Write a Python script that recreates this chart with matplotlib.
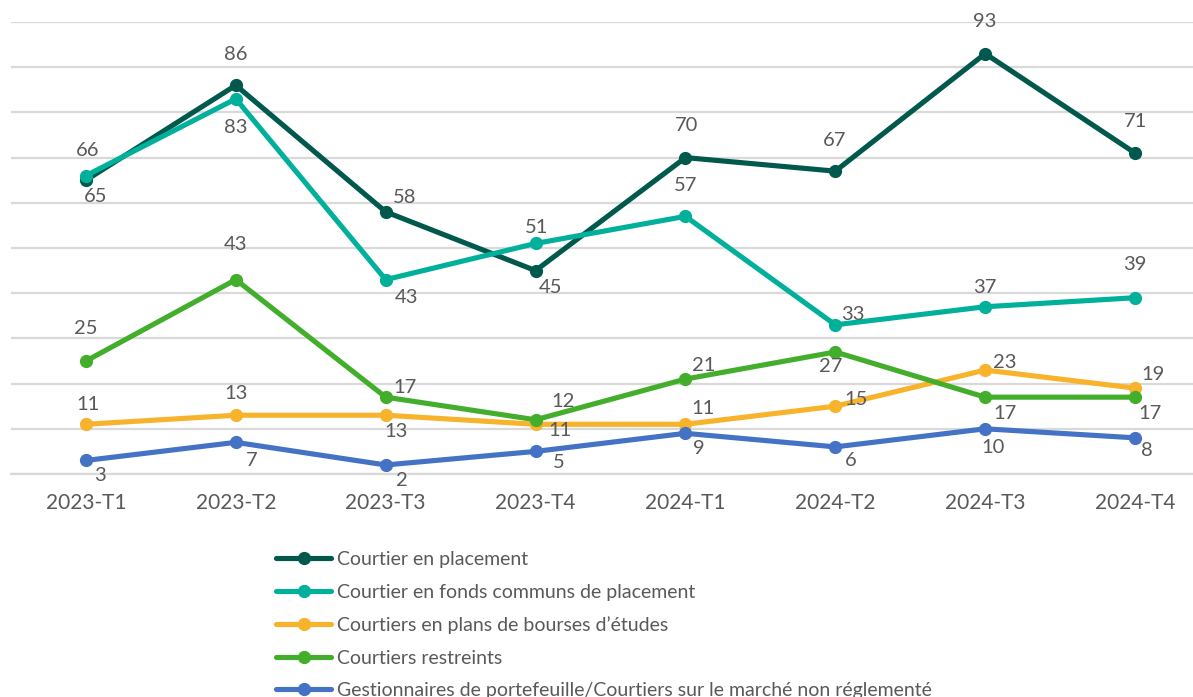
import matplotlib.pyplot as plt

plt.rcParams['font.family'] = ['Lato', 'DejaVu Sans']

trimestres = ['2023-T1', '2023-T2', '2023-T3', '2023-T4',
              '2024-T1', '2024-T2', '2024-T3', '2024-T4']

courtier_placement = [65, 86, 58, 45, 70, 67, 93, 71]
courtier_fonds = [66, 83, 43, 51, 57, 33, 37, 39]
courtiers_bourses = [11, 13, 13, 11, 11, 15, 23, 19]
courtiers_restreints = [25, 43, 17, 12, 21, 27, 17, 17]
gestionnaires = [3, 7, 2, 5, 9, 6, 10, 8]

noms = ['Courtier en placement',
        'Courtier en fonds communs de placement',
        'Courtiers en plans de bourses d\u2019\u00e9tudes',
        'Courtiers restreints',
        'Gestionnaires de portefeuille/Courtiers sur le march\u00e9 non r\u00e9glement\u00e9']
series = [courtier_placement, courtier_fonds, courtiers_bourses,
          courtiers_restreints, gestionnaires]
couleurs = ['#00594C', '#00B09B', '#F7B32B', '#43AE2B', '#4472C4']

# label offsets in pixels (dx, dy up)
decalages = [
    [(10, -16), (0, 31), (19, 14), (15, -17), (1, 32), (-1, 31), (0, 32), (0, 32)],
    [(2, 25), (0, -29), (21, -18), (1, 16), (0, 31), (18, 10), (0, 19), (0, 33)],
    [(2, 20), (0, 22), (10, -16), (24, -6), (18, 16), (21, 7), (20, 8), (18, 14)],
    [(0, 33), (0, 35), (19, 10), (27, 18), (18, 14), (-5, -15), (20, -16), (15, -16)],
    [(14, -15), (16, -18), (16, -16), (23, -11), (13, -15), (15, -14), (8, -19), (12, -13)],
]

fig = plt.figure(figsize=(11.93, 6.97), dpi=100)
ax = fig.add_axes([11 / 1193, 223 / 697, 1199 / 1193, 452 / 697])

x = list(range(len(trimestres)))
for vals, nom, c, offs in zip(series, noms, couleurs, decalages):
    ax.plot(x, vals, color=c, lw=3.7, marker='o', ms=8.5, label=nom,
            solid_capstyle='round', zorder=3)
    for xi, v, (dx, dy) in zip(x, vals, offs):
        ax.annotate(str(v), (xi, v), xytext=(dx, dy), textcoords='offset pixels',
                    ha='center', va='center', fontsize=14.5, color='#595959', zorder=4)

ax.set_xlim(-0.5, 7.5)
ax.set_ylim(0, 100)
ax.set_yticks(range(0, 101, 10))
ax.yaxis.grid(True, color='#D9D9D9', lw=1.6)
ax.set_axisbelow(True)
ax.tick_params(axis='y', left=False, labelleft=False)
ax.tick_params(axis='x', length=0, pad=14, labelsize=15, labelcolor='#595959')
ax.set_xticks(x)
ax.set_xticklabels(trimestres)
for s in ['top', 'right', 'left']:
    ax.spines[s].set_visible(False)
ax.spines['bottom'].set_color('#D9D9D9')
ax.spines['bottom'].set_linewidth(1.6)

leg = fig.legend(loc='upper left', bbox_to_anchor=(276 / 1193, 1 - 551 / 697),
                 frameon=False, fontsize=14, handlelength=2.85, handletextpad=0.3,
                 labelspacing=0.8, borderaxespad=0, borderpad=0)
for t in leg.get_texts():
    t.set_color('#595959')

fig.savefig('out.png', dpi=100)
